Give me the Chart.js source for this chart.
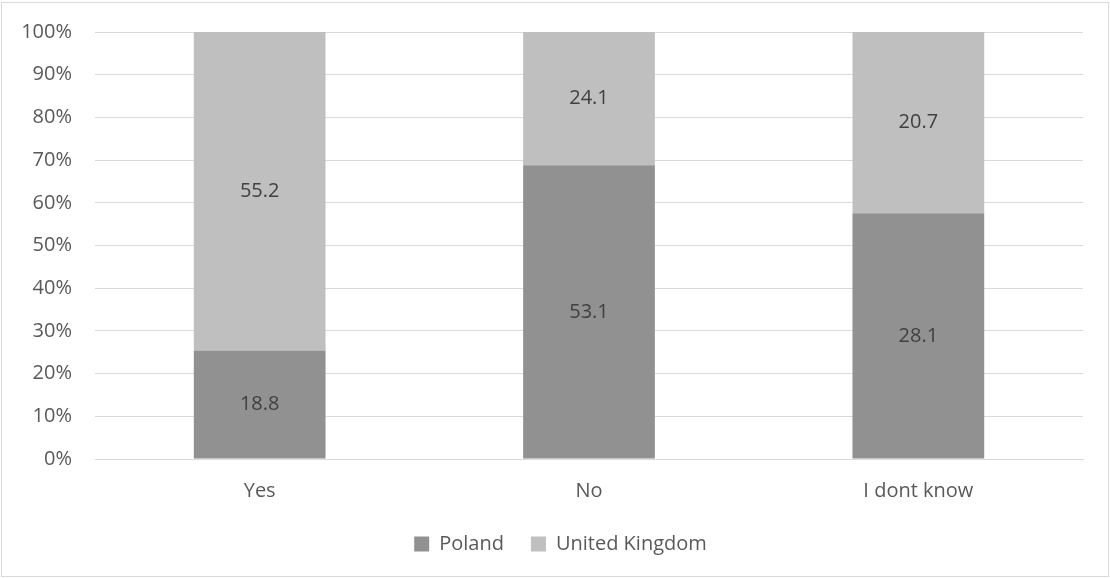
<!DOCTYPE html>
<html><head><meta charset="utf-8">
<script src="https://cdn.jsdelivr.net/npm/chart.js@4/dist/chart.umd.min.js"></script>
<style>html,body{margin:0;padding:0;background:#fff}#wrap{width:1110px;height:578px;position:relative}</style>
</head><body><div id="wrap"><canvas id="c" width="1110" height="578"></canvas></div>
<script>
const categories = ["Yes", "No", "I dont know"];
const seriesNames = ["Poland", "United Kingdom"];
const poland = [18.8, 53.1, 28.1];
const unitedKingdom = [55.2, 24.1, 20.7];
const yTicks = ["0%","10%","20%","30%","40%","50%","60%","70%","80%","90%","100%"];

const totals = categories.map((_, i) => poland[i] + unitedKingdom[i]);
const pct = arr => arr.map((v, i) => v / totals[i] * 100);
const raw = [poland, unitedKingdom];
const FONT = '"Open Sans", sans-serif';

const labelPlugin = {
  id: 'segLabels',
  afterDatasetsDraw(chart) {
    const ctx = chart.ctx;
    ctx.save();
    ctx.font = '20px ' + FONT;
    ctx.fillStyle = '#404040';
    ctx.textAlign = 'center';
    ctx.textBaseline = 'middle';
    chart.data.datasets.forEach((ds, di) => {
      chart.getDatasetMeta(di).data.forEach((bar, i) => {
        const mid = (bar.y + bar.base) / 2;
        ctx.fillText(raw[di][i].toFixed(1), bar.x, mid);
      });
    });
    ctx.restore();
  }
};
const borderPlugin = {
  id: 'frame',
  beforeDraw(chart) {
    const ctx = chart.ctx;
    ctx.save();
    ctx.fillStyle = '#fff';
    ctx.fillRect(0, 0, chart.width, chart.height);
    ctx.strokeStyle = '#d9d9d9';
    ctx.lineWidth = 1;
    ctx.strokeRect(1.5, 2.5, chart.width - 3, chart.height - 4);
    ctx.restore();
  }
};
const legendShift = {
  id: 'legendShift',
  afterLayout(chart) {
    if (chart.legend) { chart.legend.left += 19; chart.legend.right += 19; }
  }
};

new Chart(document.getElementById('c'), {
  type: 'bar',
  data: {
    labels: categories,
    datasets: [
      { label: seriesNames[0], data: pct(poland), backgroundColor: '#919191', categoryPercentage: 0.4, barPercentage: 1 },
      { label: seriesNames[1], data: pct(unitedKingdom), backgroundColor: '#bfbfbf', categoryPercentage: 0.4, barPercentage: 1 }
    ]
  },
  options: {
    responsive: false,
    animation: false,
    layout: { padding: { top: 32, right: 27, left: 0, bottom: 14 } },
    plugins: {
      legend: {
        position: 'bottom',
        labels: { boxWidth: 15, boxHeight: 15, color: '#595959', font: { family: FONT, size: 20 }, padding: 27 }
      },
      tooltip: { enabled: false }
    },
    scales: {
      x: {
        stacked: true,
        afterFit(s) { s.height = s.height - 16; },
        grid: { display: false, drawTicks: false },
        border: { display: true, color: '#d9d9d9' },
        ticks: { color: '#595959', font: { family: FONT, size: 20 }, padding: 20 }
      },
      y: {
        stacked: true,
        min: 0, max: 100,
        afterFit(s) { s.width = 95; s.paddingTop = 0; s.paddingBottom = 0; },
        grid: { color: '#d9d9d9', drawTicks: false },
        border: { display: false },
        ticks: { stepSize: 10, padding: 23, color: '#595959', font: { family: FONT, size: 20 },
          callback: (v, i) => yTicks[i] }
      }
    }
  },
  plugins: [borderPlugin, labelPlugin, legendShift]
});
</script></body></html>
